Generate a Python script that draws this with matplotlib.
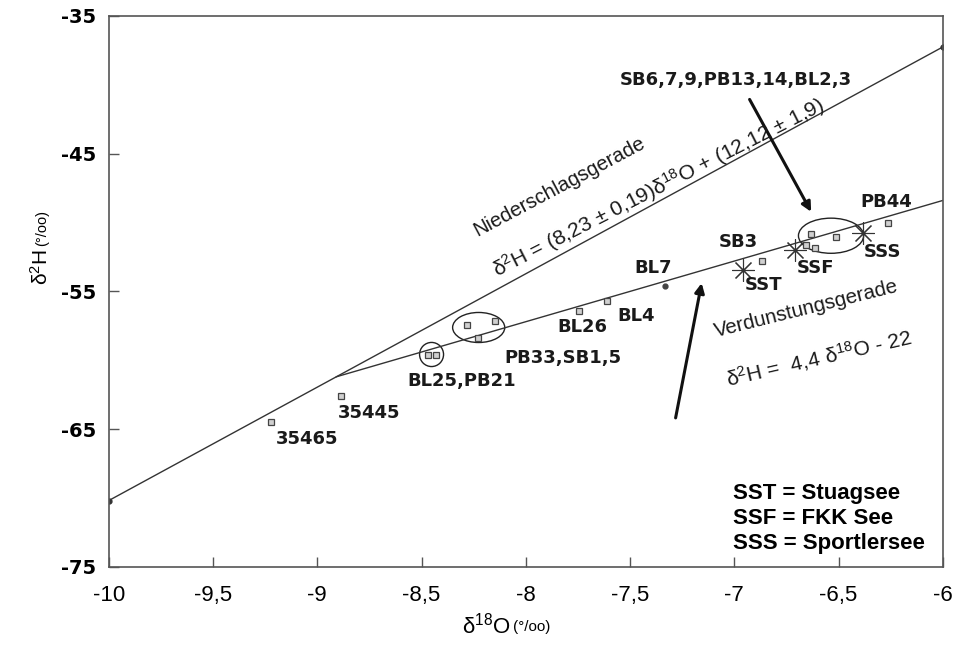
import numpy as np
import matplotlib.pyplot as plt
from matplotlib.patches import Ellipse

plt.rcParams['font.family'] = ['Liberation Sans', 'DejaVu Sans']
plt.rcParams['mathtext.default'] = 'regular'

# Niederschlagsgerade: d2H = 8.23 d18O + 12.12
gmwl_slope = 8.23
gmwl_icpt = 12.12
gmwl_x = [-10.0, -6.0]
# Verdunstungsgerade: d2H = 4.4 d18O - 22
evap_slope = 4.4
evap_icpt = -22.0
evap_x_end = -6.0

# single samples (open squares)
sample_names = ['35465', '35445', 'BL26', 'BL4', 'SB3', 'PB44']
sample_x = [-9.22, -8.885, -7.745, -7.61, -6.865, -6.264]
sample_y = [-64.45, -62.56, -56.4, -55.7, -52.8, -50.05]

# grouped samples inside circles/ellipses
bl25_x = [-8.471, -8.433]
bl25_y = [-59.65, -59.65]
pb33_x = [-8.284, -8.149, -8.231]
pb33_y = [-57.47, -57.18, -58.35]
sb6_x = [-6.63, -6.514, -6.611, -6.655]
sb6_y = [-50.85, -51.07, -51.87, -51.6]

bl7 = (-7.33, -54.6)

# lakes (asterisks)
lake_names = ['SST', 'SSF', 'SSS']
lake_x = [-6.957, -6.707, -6.385]
lake_y = [-53.47, -52.02, -50.78]

xticks = [-10, -9.5, -9, -8.5, -8, -7.5, -7, -6.5, -6]
xticklabels = ['-10', '-9,5', '-9', '-8,5', '-8', '-7,5', '-7', '-6,5', '-6']
yticks = [-35, -45, -55, -65, -75]

fig = plt.figure(figsize=(9.63, 6.6), dpi=100)
ax = fig.add_axes([0.113, 0.141, 0.866, 0.835])
ax.set_xlim(-10, -6)
ax.set_ylim(-75, -35)

# regression lines
gx = np.array(gmwl_x)
ax.plot(gx, gmwl_slope * gx + gmwl_icpt, color='#333333', lw=1.0)
ax.plot(gx, gmwl_slope * gx + gmwl_icpt, 'o', color='#333333', ms=3.5)
x0 = (evap_icpt - gmwl_icpt) / (gmwl_slope - evap_slope)
ex = np.array([x0, evap_x_end])
ax.plot(ex, evap_slope * ex + evap_icpt, color='#333333', lw=1.0)

sq = dict(marker='s', ls='none', ms=3.8, mfc='#d0d0d0', mec='#444444', mew=0.9)
ax.plot(sample_x, sample_y, **sq)
ax.plot(bl25_x, bl25_y, **sq)
ax.plot(pb33_x, pb33_y, **sq)
ax.plot(sb6_x, sb6_y, **sq)
ax.plot(*bl7, 'o', color='#444444', ms=3.5)
ax.plot(lake_x, lake_y, marker=(8, 2, 0), ls='none', ms=16, mec='#333333', mew=0.8)

ax.add_patch(Ellipse((-8.452, -59.58), 0.115, 1.75, fill=False, ec='#222222', lw=1.0))
ax.add_patch(Ellipse((-8.226, -57.62), 0.25, 2.18, fill=False, ec='#222222', lw=1.0))
ax.add_patch(Ellipse((-6.536, -50.96), 0.3125, 2.55, fill=False, ec='#222222', lw=1.0))

lab = dict(fontsize=13, fontweight='bold', family='DejaVu Sans',
           ha='center', va='center', color='#1a1a1a')
sample_lab_pos = [(-9.048, -65.69), (-8.75, -63.8), (-7.73, -57.55),
                  (-7.47, -56.75), (-6.98, -51.44), (-6.27, -48.53)]
for name, (tx, ty) in zip(sample_names, sample_lab_pos):
    ax.text(tx, ty, name, **lab)
ax.text(-8.308, -61.47, 'BL25,PB21', **lab)
ax.text(-7.822, -59.87, 'PB33,SB1,5', **lab)
ax.text(-7.39, -53.33, 'BL7', **lab)
lake_lab_pos = [(-6.86, -54.56), (-6.61, -53.33), (-6.29, -52.16)]
for name, (tx, ty) in zip(lake_names, lake_lab_pos):
    ax.text(tx, ty, name, **lab)
ax.text(-6.995, -39.65, 'SB6,7,9,PB13,14,BL2,3', **lab)

arrow = dict(arrowstyle='-|>', color='#111111', lw=2.2, mutation_scale=14)
ax.annotate('', xy=(-6.625, -49.4), xytext=(-6.933, -40.89), arrowprops=arrow)
ax.annotate('', xy=(-7.154, -54.2), xytext=(-7.284, -64.38), arrowprops=arrow)

ax.text(-7.84, -47.4, 'Niederschlagsgerade', fontsize=14.6, rotation=28,
        ha='center', va='center', rotation_mode='anchor', color='#1a1a1a')
ax.text(-7.36, -47.5, 'δ$^{2}$H = (8,23 ± 0,19)δ$^{18}$O + (12,12 ± 1,9)',
        fontsize=15.2, rotation=27, ha='center', va='center',
        rotation_mode='anchor', color='#1a1a1a')
ax.text(-6.654, -56.3, 'Verdunstungsgerade', fontsize=14.8, rotation=14,
        ha='center', va='center', rotation_mode='anchor', color='#1a1a1a')
ax.text(-6.596, -59.8, 'δ$^{2}$H =  4,4 δ$^{18}$O - 22', fontsize=15.2,
        rotation=13, ha='center', va='center', rotation_mode='anchor',
        color='#1a1a1a')

for i, s in enumerate(['SST = Stuagsee', 'SSF = FKK See', 'SSS = Sportlersee']):
    ax.text(0.748, 0.134 - i * 0.046, s, transform=ax.transAxes, fontsize=16,
            fontweight='bold', va='center', ha='left')

ax.set_xticks(xticks)
ax.set_xticklabels(xticklabels, fontsize=16)
ax.set_yticks(yticks)
ax.set_yticklabels([str(v) for v in yticks], fontsize=14, fontweight='bold',
                   family='DejaVu Sans')
ax.tick_params(direction='in', length=7, width=1, color='#555555')
ax.tick_params(axis='x', pad=13)
ax.tick_params(axis='y', pad=9)
for sp in ax.spines.values():
    sp.set_color('#555555')
    sp.set_linewidth(1.2)

fig.text(0.530, 0.052, 'δ$^{18}$O', fontsize=16, ha='right', va='center')
fig.text(0.533, 0.050, '(°/oo)', fontsize=11, ha='left', va='center')
fig.text(0.042, 0.622, 'δ$^{2}$H', fontsize=15, rotation=90, ha='center', va='top')
fig.text(0.044, 0.628, '(°/oo)', fontsize=10.5, rotation=90, ha='center', va='bottom')

plt.savefig('out.png', dpi=100)
